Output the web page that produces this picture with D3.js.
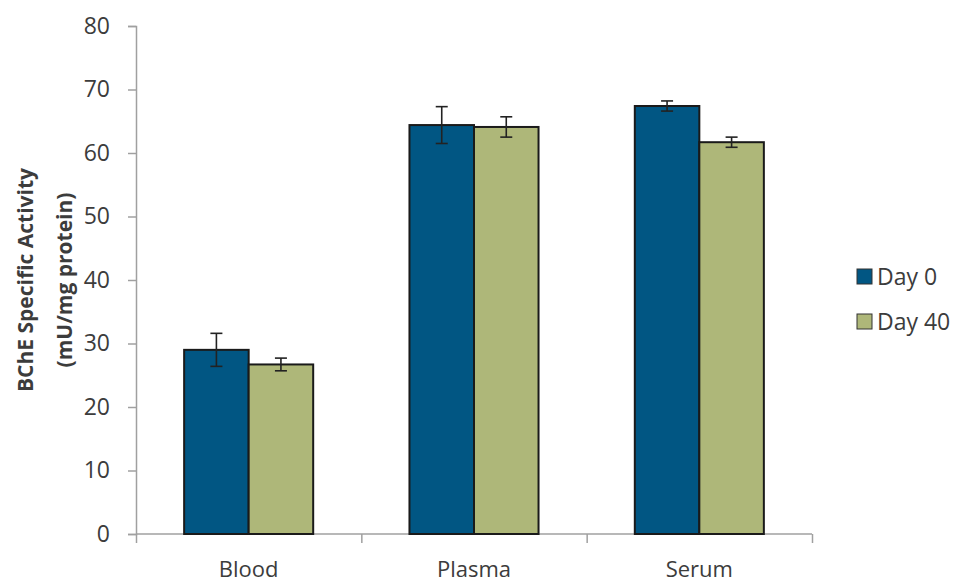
<!DOCTYPE html>
<html>
<head>
<meta charset="utf-8">
<script src="https://cdn.jsdelivr.net/npm/d3@7"></script>
<style>
  html, body { margin: 0; padding: 0; background: #fff; }
  svg { display: block; }
  text { font-family: "Open Sans", Lato, sans-serif; fill: #3c3c3c; }
</style>
</head>
<body>
<svg id="chart" width="960" height="585"></svg>
<script>
// BChE specific activity by sample type, Day 0 vs Day 40
const categories = ["Blood", "Plasma", "Serum"];
const seriesNames = ["Day 0", "Day 40"];
const day0Values = [29.0, 64.4, 67.4];
const day0Errors = [2.6, 2.9, 0.8];
const day40Values = [26.7, 64.1, 61.7];
const day40Errors = [1.0, 1.6, 0.8];
const yTicks = [0, 10, 20, 30, 40, 50, 60, 70, 80];

const colors = ["#015683", "#aeb779"];
const series = [
  { name: seriesNames[0], values: day0Values, errors: day0Errors },
  { name: seriesNames[1], values: day40Values, errors: day40Errors }
];

const svg = d3.select("#chart");
const plot = { left: 136, right: 812, top: 26, bottom: 534 };
const fontFamily = "'Open Sans', Lato, sans-serif";

const x0 = d3.scaleBand().domain(categories).range([plot.left, plot.right]).padding(0);
const x1 = d3.scaleBand().domain(seriesNames).range([0, x0.bandwidth()])
  .paddingInner(0).paddingOuter(0.746);
const y = d3.scaleLinear().domain([0, 80]).range([plot.bottom, plot.top]);

const axisColor = "#a0a0a0";

// y axis
const yAxis = svg.append("g")
  .attr("transform", `translate(${plot.left},0)`)
  .call(d3.axisLeft(y).tickValues(yTicks).tickSize(8).tickPadding(18));
yAxis.select(".domain").attr("stroke", axisColor).attr("stroke-width", 1.5);
yAxis.selectAll(".tick line").attr("stroke", axisColor).attr("stroke-width", 1.5);
yAxis.selectAll(".tick text")
  .attr("font-size", 23).attr("fill", "#3c3c3c")
  .style("font-family", fontFamily);

// x axis: ticks at category boundaries, labels centered in bands
const boundaries = [plot.left].concat(categories.map(c => x0(c) + x0.bandwidth()));
const xLin = d3.scaleLinear().domain([plot.left, plot.right]).range([plot.left, plot.right]);
const xAxis = svg.append("g")
  .attr("transform", `translate(0,${plot.bottom})`)
  .call(d3.axisBottom(xLin).tickValues(boundaries).tickSize(9).tickFormat(""));
xAxis.select(".domain").attr("stroke", axisColor).attr("stroke-width", 1.5)
  .attr("d", `M${plot.left},0H${plot.right}`);
xAxis.selectAll(".tick line").attr("stroke", axisColor).attr("stroke-width", 1.5);

svg.append("g").selectAll("text")
  .data(categories)
  .join("text")
  .attr("x", d => x0(d) + x0.bandwidth() / 2)
  .attr("y", 577)
  .attr("text-anchor", "middle")
  .attr("font-size", 22)
  .text(d => d);

// bars
const groups = svg.append("g").selectAll("g")
  .data(series)
  .join("g")
  .attr("fill", (d, i) => colors[i]);

groups.selectAll("rect")
  .data(s => categories.map((c, i) => ({ c, name: s.name, v: s.values[i], e: s.errors[i] })))
  .join("rect")
  .attr("x", d => x0(d.c) + x1(d.name))
  .attr("width", x1.bandwidth())
  .attr("y", d => y(d.v))
  .attr("height", d => y(0) - y(d.v))
  .attr("stroke", "#1a1a1a")
  .attr("stroke-width", 2);

// error bars
const errG = svg.append("g").attr("stroke", "#222").attr("stroke-width", 1.6);
series.forEach(s => {
  categories.forEach((c, i) => {
    const cx = x0(c) + x1(s.name) + x1.bandwidth() / 2;
    const hi = y(s.values[i] + s.errors[i]);
    const lo = y(s.values[i] - s.errors[i]);
    errG.append("line").attr("x1", cx).attr("x2", cx).attr("y1", hi).attr("y2", lo);
    errG.append("line").attr("x1", cx - 6).attr("x2", cx + 6).attr("y1", hi).attr("y2", hi);
    errG.append("line").attr("x1", cx - 6).attr("x2", cx + 6).attr("y1", lo).attr("y2", lo);
  });
});

// y axis title (two rotated lines)
const titleCenterY = 280;
svg.append("text")
  .attr("transform", `translate(33,${titleCenterY}) rotate(-90)`)
  .attr("text-anchor", "middle")
  .attr("font-size", 21)
  .attr("font-weight", "bold")
  .text("BChE Specific Activity");
svg.append("text")
  .attr("transform", `translate(72,${titleCenterY}) rotate(-90)`)
  .attr("text-anchor", "middle")
  .attr("font-size", 21)
  .attr("font-weight", "bold")
  .text("(mU/mg protein)");

// legend
const legend = svg.append("g").attr("transform", "translate(857,269)");
const li = legend.selectAll("g").data(series).join("g")
  .attr("transform", (d, i) => `translate(0,${i * 45})`);
li.append("rect").attr("width", 15).attr("height", 15)
  .attr("fill", (d, i) => colors[i]).attr("stroke", "#333").attr("stroke-width", 1);
li.append("text").attr("x", 20).attr("y", 16).attr("font-size", 23).text(d => d.name);
</script>
</body>
</html>
